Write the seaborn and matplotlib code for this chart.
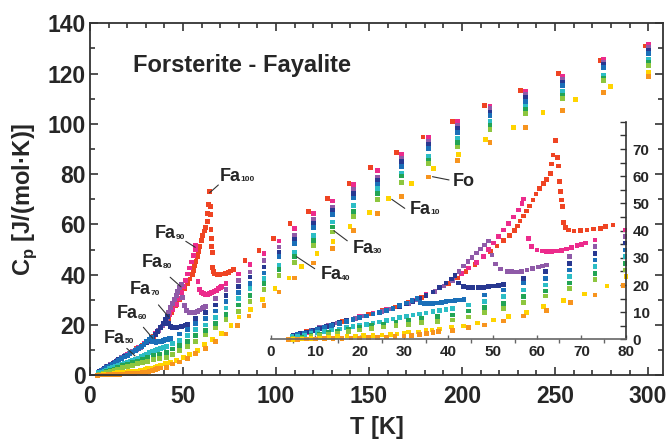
import matplotlib
matplotlib.use('Agg')
import matplotlib.pyplot as plt
from matplotlib.ticker import MultipleLocator
import pandas as pd
import seaborn as sns

sns.set_theme(style='ticks')
plt.rcParams['font.family'] = ['Liberation Sans', 'DejaVu Sans']
plt.rcParams['font.weight'] = 'bold'
plt.rcParams['mathtext.fontset'] = 'custom'
plt.rcParams['mathtext.rm'] = 'Liberation Sans'
plt.rcParams['mathtext.bf'] = 'Liberation Sans:bold'

# heat capacity data, T [K] and Cp [J/(mol K)]
t_fa100 = [5, 8, 11, 13.5, 16, 19, 22, 25, 28, 31, 34, 37, 40, 42, 44, 46, 48, 49.5, 51, 52.5,
           53.8, 54.9, 55.6, 56.2, 57, 57.6, 58.3, 59.1, 59.8, 60.6, 61.5, 62.2, 63, 63.3, 63.6,
           64.1, 64.6, 64.9, 65.1, 65.3, 65.5, 65.7, 65.9, 66.4, 67.1, 68.3, 69.8, 71.3, 72.7,
           74.3, 75.5, 77.1, 83.3, 90.9, 98.5, 107.5, 117.4, 127.6, 139.2, 151, 164.7, 179, 195,
           212, 231.5, 252, 274.2, 298.4]
cp_fa100 = [1.5, 2.9, 4.2, 5.3, 6.5, 7.9, 9.3, 10.6, 12.0, 13.6, 15.4, 17.6, 20.5, 22.6, 25.0,
            27.6, 30.3, 32.4, 34.4, 36.4, 38.3, 40.0, 41.7, 43.6, 45.4, 47.2, 49.1, 51.3, 53.5,
            55.6, 57.4, 58.9, 61.1, 64.5, 67.8, 73.1, 67.0, 63.8, 58.0, 54.3, 51.3, 48.8, 42.9,
            41.2, 40.3, 39.9, 40.0, 40.3, 40.6, 40.9, 41.5, 42.1, 45.7, 49.7, 54.4, 60.3, 65.0,
            70.3, 76.2, 82.6, 88.6, 94.8, 101.0, 107.4, 113.2, 120.0, 125.3, 131.0]

t_fa90 = [5, 8, 11, 14, 17, 20, 23, 26, 29, 32, 35, 38, 41, 43, 44.6, 46.3, 47.9, 49, 50.2, 51.3,
          52.4, 53.6, 54.7, 55.8, 56.6, 56.9, 58.1, 58.8, 60, 61.1, 62.2, 63.3, 64.4, 65.5, 66.7,
          67.8, 69, 70, 70.9, 73.1, 79.8, 86, 93.5, 101.6, 110, 120, 130.3, 141.6, 154.5, 167.4,
          182, 197.5, 215, 234, 254, 276, 300]
cp_fa90 = [1.3, 2.6, 4.1, 5.6, 7.1, 8.4, 9.7, 11.1, 12.6, 14.4, 16.5, 19.0, 21.8, 24.2, 26.3, 28.3,
           30.4, 33.0, 35.4, 37.8, 40.3, 42.7, 45.1, 47.6, 50.1, 51.7, 37.2, 34.1, 32.9, 32.5,
           32.3, 32.3, 32.5, 32.8, 33.3, 33.8, 34.5, 35.0, 35.4, 36.6, 40.3, 44.2, 48.4, 53.4,
           58.3, 64.3, 69.3, 76.0, 81.5, 87.9, 94.5, 100.8, 107.0, 113.0, 119.0, 125.6, 131.7]

t_fa80 = [5, 7, 9, 11, 13, 15, 17, 19, 21, 23, 25, 27, 29, 31, 33, 35, 37, 39, 41, 42.4, 43.4,
          44.4, 45.3, 46.3, 47.2, 48.2, 49.1, 49.8, 50.6, 51.7, 53.2, 54.3, 55.4, 56.5, 57.7, 59,
          60.3, 61.2, 62.1, 67.3, 73.1, 79.8, 86, 93.5, 101.6, 110, 120, 130.3, 141.6, 154.5,
          167.4, 182, 197.5, 215, 234, 254, 276, 300]
cp_fa80 = [1.4, 2.4, 3.4, 4.3, 5.2, 6.1, 7.0, 7.8, 8.6, 9.4, 10.3, 11.2, 12.2, 13.3, 14.5, 16.0,
           17.7, 19.6, 21.7, 25.0, 27.0, 28.6, 30.2, 31.8, 33.3, 34.8, 36.2, 31.0, 27.8, 25.9,
           25.1, 24.9, 24.8, 25.1, 25.5, 26.0, 26.6, 27.0, 27.4, 30.4, 34.1, 37.8, 41.1, 45.7,
           51.0, 55.7, 62.0, 66.9, 73.9, 78.9, 86.2, 93.2, 99.4, 106.0, 111.8, 117.6, 124.6, 130.3]

t_fa70 = [5, 6.5, 8, 9.5, 11, 12.5, 14, 15.5, 17, 18.5, 20, 21.5, 23, 24.5, 26, 27.5, 29, 30.5,
          32, 33.5, 35, 36.5, 38, 39.5, 40.7, 41.5, 42.3, 43.4, 44.5, 45.6, 46.8, 47.9, 49, 50.2,
          51.3, 52.4, 56.9, 61.9, 67.3, 73.1, 79.8, 86, 93.5, 101.6, 110, 120, 130.3, 141.6,
          154.5, 167.4, 182, 197.5, 215, 234, 254, 276, 300]
cp_fa70 = [1.5, 2.1, 2.7, 3.4, 4.1, 4.8, 5.5, 6.2, 6.9, 7.5, 8.1, 8.7, 9.3, 9.9, 10.5, 11.3, 12.2,
           13.1, 14.0, 15.0, 16.2, 17.5, 19.0, 20.7, 22.3, 23.5, 20.7, 19.4, 19.1, 19.0, 19.1,
           19.2, 19.4, 19.6, 19.9, 20.2, 22.5, 24.9, 28.0, 31.7, 35.4, 39.1, 43.1, 49.0, 54.0,
           60.3, 65.6, 72.2, 77.4, 84.9, 91.9, 98.1, 104.7, 110.4, 116.5, 123.5, 129.3]

t_fa60 = [4.7, 6, 7.5, 9, 10.5, 12, 13.7, 15.5, 17, 18.5, 20, 21.5, 23, 24.5, 26, 27.5, 29, 30.5,
          31.8, 32.9, 33.6, 34.5, 35.5, 36.5, 37.5, 38.5, 39.5, 40.5, 41.5, 42.5, 43.5, 48.2,
          52.4, 56.9, 61.9, 67.3, 73.1, 79.8, 86, 93.5, 101.6, 110, 120, 130.3, 141.6, 154.5,
          167.4, 182, 197.5, 215, 234, 254, 276, 300]
cp_fa60 = [1.3, 1.8, 2.4, 3.0, 3.7, 4.3, 5.1, 5.9, 6.6, 7.3, 8.0, 8.6, 9.3, 9.9, 10.6, 11.5, 12.4,
           13.4, 14.3, 15.0, 13.6, 13.3, 13.2, 13.3, 13.4, 13.6, 13.9, 14.1, 14.3, 14.5, 14.8,
           16.4, 18.2, 20.7, 22.5, 25.6, 29.2, 32.9, 36.5, 40.7, 47.3, 52.4, 58.7, 64.0, 70.5,
           76.0, 82.9, 90.2, 96.7, 103.4, 109.0, 115.2, 122.3, 128.0]

t_fa50 = [4.7, 6, 7.5, 9, 10.5, 12, 13.7, 15.5, 17, 18.5, 20, 21.5, 23, 24.5, 26, 27.5, 29, 30.5,
          32, 33.5, 35, 36.5, 38, 39.5, 41, 44.5, 48.2, 52.4, 56.9, 61.9, 67.3, 73.1, 79.8, 86,
          93.5, 101.6, 110, 120, 130.3, 141.6, 154.5, 167.4, 182, 197.5, 215, 234, 254, 276, 300]
cp_fa50 = [1.0, 1.3, 1.7, 2.1, 2.6, 3.0, 3.5, 3.9, 4.3, 4.7, 5.1, 5.5, 6.0, 6.4, 6.9, 7.5, 8.0,
           8.5, 9.0, 9.4, 9.8, 10.2, 10.6, 11.0, 11.3, 12.7, 13.9, 15.7, 18.2, 20.0, 23.1, 26.8,
           30.4, 34.5, 38.5, 43.8, 49.0, 55.7, 61.0, 67.6, 74.2, 80.5, 87.1, 94.1, 100.8, 107.0,
           112.9, 119.3, 125.6]

t_fa40 = [5, 7, 9, 11, 13, 15, 17.5, 20, 22.7, 25.4, 28.2, 31, 34, 37.5, 41, 44.5, 48.2, 52.4,
          56.9, 61.9, 67.3, 73.1, 79.8, 86, 93.5, 101.6, 110, 120, 130.3, 141.6, 154.5, 167.4,
          182, 197.5, 215, 234, 254, 276, 300]
cp_fa40 = [0.5, 0.9, 1.4, 1.9, 2.5, 3.1, 3.8, 4.4, 5.1, 5.7, 6.3, 7.0, 7.8, 8.4, 9.0, 10.5, 11.7,
           13.3, 15.7, 17.8, 20.7, 24.3, 28.0, 31.8, 36.5, 42.0, 47.3, 53.7, 59.0, 65.0, 72.2,
           79.3, 85.5, 92.5, 99.2, 105.6, 111.4, 118.0, 124.5]

t_fa30 = [5, 7, 9, 11, 13, 15, 17.5, 20, 22.7, 25.4, 28.2, 31, 34, 37.5, 41, 44.5, 48.2, 52.4,
          56.9, 61.9, 67.3, 73.1, 79.8, 86, 93.5, 101.6, 110, 120, 130.3, 141.6, 154.5, 167.4,
          182, 197.5, 215, 234, 254, 276, 300]
cp_fa30 = [0.3, 0.6, 1.0, 1.4, 1.9, 2.4, 3.0, 3.5, 4.0, 4.6, 5.1, 5.6, 6.2, 6.6, 7.2, 8.2, 9.9,
           11.5, 13.5, 16.0, 18.8, 22.1, 25.5, 29.2, 34.1, 39.8, 44.8, 51.7, 57.0, 63.2, 69.8,
           76.6, 84.2, 90.8, 97.9, 104.0, 110.0, 117.3, 123.3]

t_fa10 = [5, 7, 9, 11, 13, 15, 17.1, 19, 20.8, 23, 25, 27, 28.4, 30, 31, 33.3, 35, 36.3, 38, 40.7,
          43.4, 46.6, 50.2, 53.6, 57.6, 61.5, 66, 70.7, 75.8, 80.1, 86.4, 92.6, 99.5, 107, 113.6,
          122, 130.6, 139.8, 150.4, 160.4, 172.7, 184.6, 198, 212.4, 227.6, 243.5, 261, 280, 300]
cp_fa10 = [0.1, 0.2, 0.3, 0.5, 0.7, 1.0, 1.3, 1.35, 1.4, 1.55, 1.7, 1.85, 2.0, 2.4, 2.7, 2.8, 3.2,
           3.5, 3.9, 4.6, 5.0, 6.0, 7.2, 8.4, 9.9, 12.1, 14.3, 16.7, 19.7, 23.2, 26.1, 30.1, 34.5,
           38.7, 43.4, 48.4, 53.3, 59.3, 64.6, 70.2, 76.2, 82.1, 87.7, 93.7, 98.5, 104.5, 109.8,
           115.0, 120.3]

t_fo = [4, 6, 8, 10, 12, 14, 16, 18, 20, 22, 24, 26, 28, 30, 31.7, 33.5, 35.1, 36.5, 37.8, 41,
        44.5, 48.2, 52.4, 56.9, 62.1, 67.5, 73.1, 79.4, 85.5, 93.5, 101.6, 110, 120, 130.3, 141.6,
        154.5, 167.4, 182, 197.5, 215, 234, 254, 276, 300]
cp_fo = [0.05, 0.1, 0.15, 0.2, 0.25, 0.3, 0.4, 0.5, 0.6, 0.7, 0.8, 0.95, 1.1, 1.25, 1.4, 1.8, 2.3,
         2.6, 2.9, 3.2, 4.5, 5.3, 6.8, 8.6, 10.6, 13.5, 16.4, 19.8, 23.6, 27.8, 33.1, 38.7, 44.7,
         50.4, 57.7, 64.3, 71.0, 78.9, 85.5, 92.7, 98.5, 105.4, 112.4, 118.7]

samples = ['Fa100', 'Fa90', 'Fa80', 'Fa70', 'Fa60', 'Fa50', 'Fa40', 'Fa30', 'Fa10', 'Fo']
colors = ['#ef4423', '#ec2b8c', '#8f5aa8', '#283891', '#1b6fb8',
          '#2cbdc5', '#22a455', '#8dc63f', '#ffd400', '#f7941e']
temps = [t_fa100, t_fa90, t_fa80, t_fa70, t_fa60, t_fa50, t_fa40, t_fa30, t_fa10, t_fo]
cps = [cp_fa100, cp_fa90, cp_fa80, cp_fa70, cp_fa60, cp_fa50, cp_fa40, cp_fa30, cp_fa10, cp_fo]

# label text (left, middle), pointer start and end, all in data units of the main axes
lab_main = ['Fa', 'Fa', 'Fa', 'Fa', 'Fa', 'Fa', 'Fa', 'Fa', 'Fa', 'Fo']
lab_sub = ['100', '90', '80', '70', '60', '50', '40', '30', '10', '']
lab_pos = [(70, 79.2), (35, 56.4), (27.9, 44.7), (21.6, 34), (14.4, 24.4), (7.5, 14.8),
           (123.9, 39.9), (141, 50.5), (172, 66.1), (194.9, 77)]
ptr_from = [(69, 75.7), (51.5, 53.3), (43.1, 39), (36.8, 28), (28.7, 19.1), (19.8, 10.7),
            (120.8, 42.4), (138.3, 53.5), (169.2, 66.4), (193, 77.7)]
ptr_to = [(64.3, 72.6), (56.6, 50.9), (48.9, 35.2), (42.2, 23.3), (33.8, 14.7), (24.2, 7.7),
          (111, 47.2), (131.1, 57.5), (162.2, 70), (184.1, 79)]

frames = []
for name, t, cp in zip(samples, temps, cps):
    frames.append(pd.DataFrame({'T': t, 'Cp': cp, 'sample': name}))
df = pd.concat(frames, ignore_index=True)
pal = dict(zip(samples, colors))

fig = plt.figure(figsize=(6.68, 4.44), dpi=100)
ax = fig.add_axes([0.1347, 0.1547, 0.8578, 0.7928])
sns.scatterplot(data=df, x='T', y='Cp', hue='sample', palette=pal, marker='s', s=12,
                linewidth=0, legend=False, ax=ax, clip_on=False)
ax.set_xlim(0, 308)
ax.set_ylim(0, 140)
ax.xaxis.set_major_locator(MultipleLocator(50))
ax.xaxis.set_minor_locator(MultipleLocator(10))
ax.yaxis.set_major_locator(MultipleLocator(20))
ax.yaxis.set_minor_locator(MultipleLocator(10))
ax.tick_params(which='both', direction='in', top=True, right=True, width=1.2, color='#333333')
ax.tick_params(which='major', length=6)
ax.tick_params(which='minor', length=3.5)
ax.tick_params(axis='x', labelsize=16.5, pad=7)
ax.tick_params(axis='y', labelsize=16.5, pad=3)
for sp in ax.spines.values():
    sp.set_linewidth(1.3)
    sp.set_color('#333333')
ax.set_xlabel('T [K]', fontsize=17, fontweight='bold', labelpad=6)
ax.set_ylabel(r'C$_\mathregular{p}$ [J/(mol·K)]', fontsize=17, fontweight='bold', labelpad=6)

ax.text(23.3, 123.2, 'Forsterite - Fayalite', fontsize=17, fontweight='bold', va='center')

for txt, sub, pos, p0, p1 in zip(lab_main, lab_sub, lab_pos, ptr_from, ptr_to):
    t = ax.text(pos[0], pos[1], txt, fontsize=13, fontweight='bold', va='center', ha='left')
    if sub:
        ax.annotate(sub, xy=(1, 0), xycoords=t, xytext=(-0.3, 1), textcoords='offset points',
                    fontsize=6, fontweight='bold', va='bottom', ha='left')
    ax.annotate('', xy=p1, xytext=p0,
                arrowprops=dict(arrowstyle='-', color='#333333', lw=0.8,
                                shrinkA=0, shrinkB=0))

# inset: low temperature part
ax_in = fig.add_axes([0.4057, 0.2354, 0.531, 0.4901])
ax_in.patch.set_alpha(0)
sns.scatterplot(data=df[df['T'] <= 81], x='T', y='Cp', hue='sample', palette=pal, marker='s',
                s=11, linewidth=0, legend=False, ax=ax_in, clip_on=False)
ax_in.set_xlim(0, 80)
ax_in.set_ylim(0, 80)
ax_in.set_xlabel('')
ax_in.set_ylabel('')
ax_in.spines['left'].set_visible(False)
ax_in.spines['top'].set_visible(False)
ax_in.spines['bottom'].set_color('#666666')
ax_in.spines['bottom'].set_linewidth(1.2)
ax_in.spines['right'].set_color('#333333')
ax_in.spines['right'].set_linewidth(1.2)
ax_in.yaxis.tick_right()
ax_in.set_yticks(range(0, 80, 10))
ax_in.yaxis.set_minor_locator(MultipleLocator(5))
ax_in.xaxis.set_major_locator(MultipleLocator(10))
ax_in.xaxis.set_minor_locator(MultipleLocator(5))
ax_in.tick_params(axis='y', which='both', direction='in', length=4, width=1, color='#333333',
                  labelsize=11, pad=5)
ax_in.tick_params(axis='x', which='major', direction='in', length=3, width=1, color='#666666',
                  labelsize=11, pad=4)
ax_in.tick_params(axis='x', which='minor', direction='out', length=3, width=1, color='#666666')

fig.savefig('out.png', dpi=100)
